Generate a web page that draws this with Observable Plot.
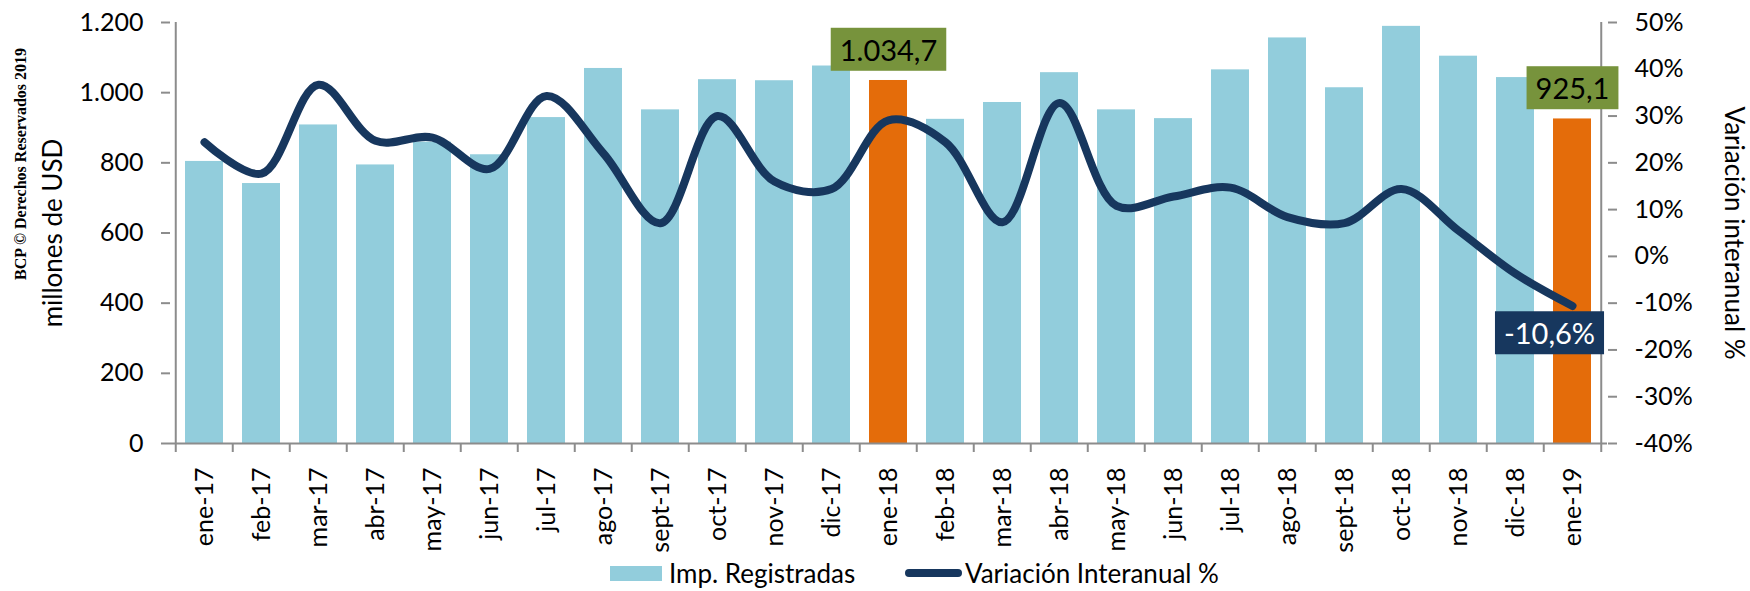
<!DOCTYPE html>
<html>
<head>
<meta charset="utf-8">
<script src="https://cdn.jsdelivr.net/npm/d3@7"></script>
<script src="https://cdn.jsdelivr.net/npm/@observablehq/plot@0.6"></script>
<style>
  html, body { margin: 0; padding: 0; background: #fff; }
  #wrap { width: 1750px; height: 591px; position: relative; overflow: hidden; font-family: Lato, "Open Sans", sans-serif; }
  #legend { position: relative; height: 36px; width: 1750px; font-size: 26px; color: #000; }
  .item { position: absolute; top: 0; display: flex; align-items: center; height: 36px; white-space: nowrap; }
  .sw-bar { width: 52px; height: 15px; background: #92CDDC; margin-right: 7px; }
  .sw-line { width: 57px; height: 8px; border-radius: 4px; background: #17375E; margin-right: 3px; }
</style>
</head>
<body>
<div id="wrap">
  <div id="chart"></div>
  <div id="legend">
    <div class="item" style="left:610px"><span class="sw-bar"></span><span>Imp. Registradas</span></div>
    <div class="item" style="left:905px"><span class="sw-line"></span><span>Variación Interanual %</span></div>
  </div>
</div>
<script>
// ---- data ----
const categories = ["ene-17","feb-17","mar-17","abr-17","may-17","jun-17","jul-17","ago-17","sept-17","oct-17","nov-17","dic-17",
  "ene-18","feb-18","mar-18","abr-18","may-18","jun-18","jul-18","ago-18","sept-18","oct-18","nov-18","dic-18","ene-19"];
const imports = [804, 741, 908, 794, 859, 823, 929, 1069, 951, 1037, 1034, 1076,
  1034.7, 924, 972, 1057, 951, 926, 1065, 1156, 1014, 1189, 1104, 1043, 925.1];
const variation = [24.4, 17.7, 36.7, 24.7, 25.4, 18.7, 34.3, 22.0, 7.1, 30.0, 16.0, 14.4,
  29.1, 24.4, 7.3, 32.8, 10.8, 12.8, 14.7, 8.4, 7.1, 14.4, 5.5, -3.7, -10.6];
const highlighted = ["ene-18", "ene-19"];
const leftTicks = [0, 200, 400, 600, 800, 1000, 1200];
const rightTicks = [-40, -30, -20, -10, 0, 10, 20, 30, 40, 50];
const leftDomain = [0, 1200];
const rightDomain = [-40, 50];

// ---- helpers ----
const rows = categories.map((cat, i) => ({cat, imp: imports[i], v: variation[i]}));
const loc = d3.formatLocale({decimal: ",", thousands: ".", grouping: [3], currency: ["", ""], minus: "-"});
const fmtInt = loc.format(",d");
const fmt1 = loc.format(",.1f");
const toLeft = p => leftDomain[0] + (p - rightDomain[0]) / (rightDomain[1] - rightDomain[0]) * (leftDomain[1] - leftDomain[0]);
const fromLeft = v => rightDomain[0] + (v - leftDomain[0]) / (leftDomain[1] - leftDomain[0]) * (rightDomain[1] - rightDomain[0]);

const W = 1750, H = 555, mL = 170, mR = 143, mT = 22, mB = 112;
const step = (W - mL - mR) / categories.length;
const gray = "#8c8c8c";
const blue = "#92CDDC", orange = "#E46C0A", green = "#77933C", navy = "#17375E";

const plot = Plot.plot({
  width: W, height: H,
  marginLeft: mL, marginRight: mR, marginTop: mT, marginBottom: mB,
  style: {fontFamily: "Lato, 'Open Sans', sans-serif", fontSize: "25px", color: "#000", background: "transparent", overflow: "visible"},
  x: {domain: categories, paddingInner: 0.333, paddingOuter: 0.1665, align: 0.5},
  y: {domain: leftDomain},
  marks: [
    Plot.barY(rows, {x: "cat", y: "imp", fill: d => highlighted.includes(d.cat) ? orange : blue}),
    Plot.line(rows, {x: "cat", y: d => toLeft(d.v), stroke: navy, strokeWidth: 8, curve: "catmull-rom", strokeLinecap: "round", strokeLinejoin: "round"}),
    // axis lines
    Plot.ruleY([leftDomain[0]], {stroke: gray, strokeWidth: 2}),
    Plot.ruleX([categories[0]], {dx: -step / 2, stroke: gray, strokeWidth: 2}),
    Plot.ruleX([categories[categories.length - 1]], {dx: step / 2, stroke: gray, strokeWidth: 2}),
    // x boundary ticks
    Plot.axisX({tickSize: 9, tickFormat: () => "", dx: -step / 2, stroke: gray, strokeWidth: 2, strokeOpacity: 1, label: null}),
    Plot.axisX({ticks: [categories[categories.length - 1]], tickSize: 9, tickFormat: () => "", dx: step / 2, stroke: gray, strokeWidth: 2, strokeOpacity: 1, label: null}),
    // x labels
    Plot.axisX({tickSize: 0, tickPadding: 24, tickRotate: -90, fontSize: 25, fill: "#000", label: null}),
    // left axis
    Plot.axisY({ticks: leftTicks, tickFormat: fmtInt, tickSize: 9, tickPadding: 18, stroke: gray, strokeWidth: 2, strokeOpacity: 1, fill: "#000", fontSize: 25, label: null}),
    // right axis
    Plot.axisY({anchor: "right", ticks: rightTicks.map(toLeft), tickFormat: v => Math.round(fromLeft(v)) + "%", tickSize: 9, tickPadding: 18, stroke: gray, strokeWidth: 2, strokeOpacity: 1, fill: "#000", fontSize: 25, label: null}),
    // axis titles
    Plot.text(["millones de USD"], {frameAnchor: "left", textAnchor: "middle", text: d => d, rotate: -90, dx: -117, fontSize: 26, fill: "#000"}),
    Plot.text(["Variación interanual %"], {frameAnchor: "right", textAnchor: "middle", text: d => d, rotate: 90, dx: 126, fontSize: 26, fill: "#000"}),
    Plot.text(["BCP © Derechos Reservados 2019"], {frameAnchor: "left", textAnchor: "middle", text: d => d, rotate: -90, dx: -150, dy: -69, fontSize: 16, fontWeight: "bold", fontFamily: "'Liberation Serif', 'DejaVu Serif', serif", fill: "#000"}),
    // annotations
    Plot.text(rows.filter(d => highlighted.includes(d.cat)), {x: "cat", y: "imp", text: d => fmt1(d.imp), dy: -29, fontSize: 29, fill: "#000", ariaDescription: "anno-green"}),
    Plot.text(rows.filter(d => d.cat === categories[categories.length - 1]), {x: "cat", y: d => toLeft(d.v), text: d => fmt1(d.v) + "%", dy: 29, dx: -23, fontSize: 29, fill: "#fff", ariaDescription: "anno-navy"})
  ]
});

document.getElementById("chart").appendChild(plot);

// boxes behind annotation texts
function boxes(label, color, padX, padY) {
  d3.select(plot).selectAll(`g[aria-description="${label}"] text`).each(function() {
    const b = this.getBBox();
    const cy = b.y + b.height / 2;
    const h = 29 + 2 * padY;
    const r = d3.select(this.parentNode).insert("rect", () => this)
      .attr("x", b.x - padX).attr("y", cy - h / 2)
      .attr("width", b.width + 2 * padX).attr("height", h)
      .attr("fill", color);
    const t = this.getAttribute("transform");
    if (t) r.attr("transform", t);
  });
}
boxes("anno-green", green, 9, 7);
boxes("anno-navy", navy, 9, 7);
</script>
</body>
</html>
